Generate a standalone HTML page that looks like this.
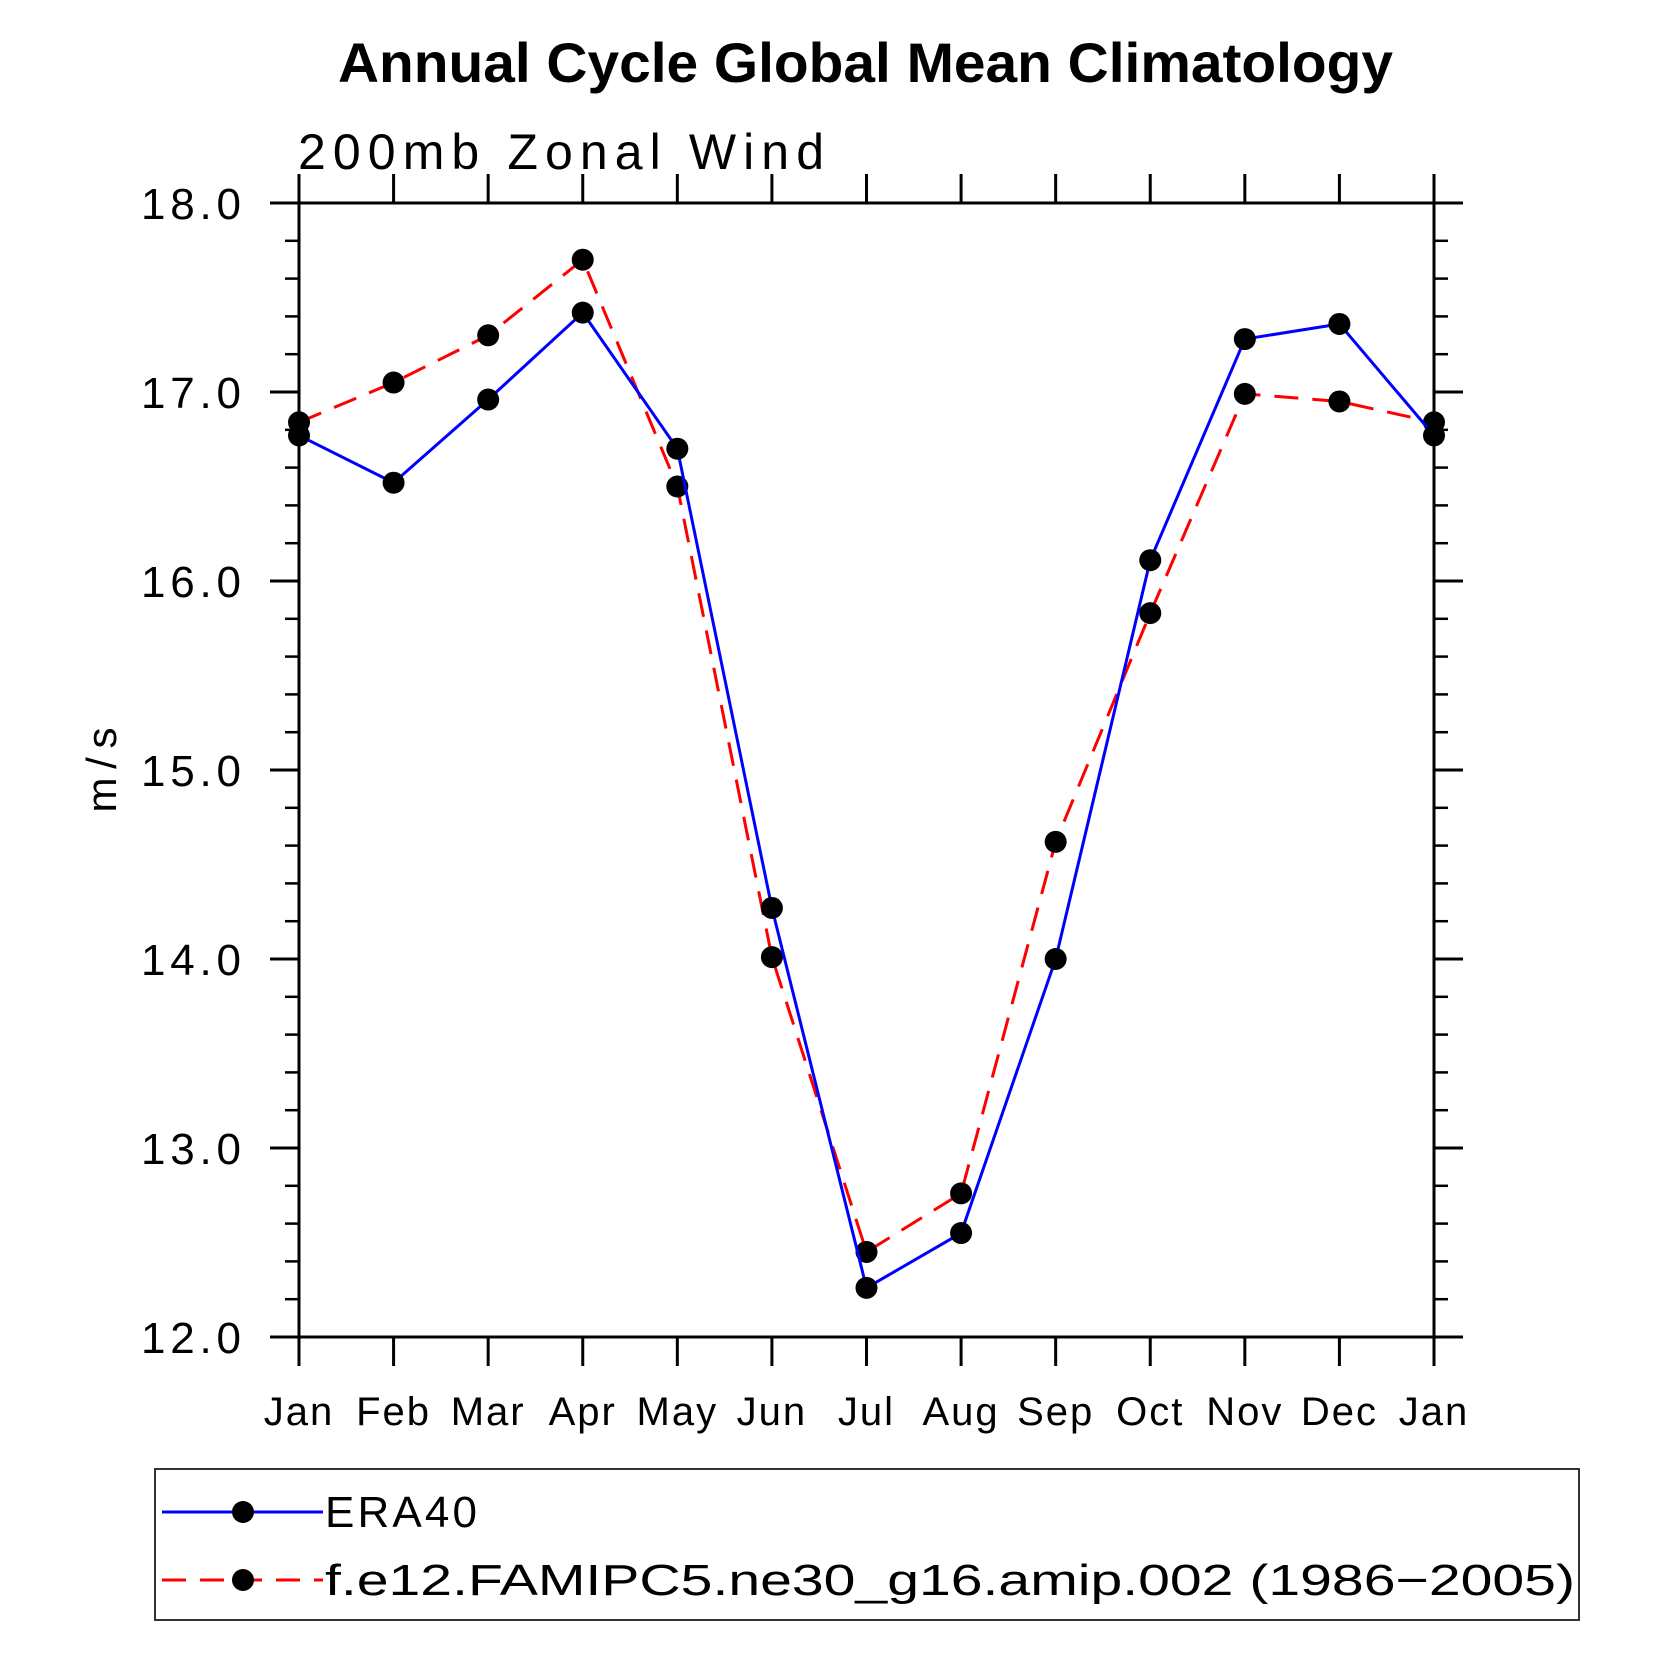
<!DOCTYPE html>
<html><head><meta charset="utf-8"><style>
html,body{margin:0;padding:0;background:#fff;}
svg{display:block;font-family:"Liberation Sans",sans-serif;}
</style></head><body>
<svg id="chart" width="1658" height="1658" viewBox="0 0 1658 1658" xmlns="http://www.w3.org/2000/svg">
<rect width="1658" height="1658" fill="#fff"/>
<text x="338" y="82" font-size="56" font-weight="bold" textLength="1055" lengthAdjust="spacingAndGlyphs">Annual Cycle Global Mean Climatology</text>
<text x="298" y="169" font-size="50" textLength="526" lengthAdjust="spacing">200mb Zonal Wind</text>
<text transform="translate(116,770) rotate(-90)" text-anchor="middle" font-size="42" textLength="85" lengthAdjust="spacing">m/s</text>
<g id="axes"></g>
<g id="series"></g>
<g id="legend">
<rect x="155" y="1469" width="1424" height="151" fill="none" stroke="#333" stroke-width="2"/>
<g>
<line x1="162" y1="1512" x2="323" y2="1512" stroke="#00f" stroke-width="3"/>
<circle cx="243" cy="1512" r="11"/>
<text x="325" y="1527" font-size="44" textLength="152" lengthAdjust="spacing">ERA40</text>
</g>
<g>
<line x1="162" y1="1580" x2="323" y2="1580" stroke="#f00" stroke-width="3" stroke-dasharray="24,14"/>
<circle cx="243" cy="1580" r="11"/>
<text x="325" y="1595" font-size="44" textLength="1250" lengthAdjust="spacingAndGlyphs">f.e12.FAMIPC5.ne30_g16.amip.002 (1986−2005)</text>
</g>
</g>
</svg>
<script>
const months = ["Jan","Feb","Mar","Apr","May","Jun","Jul","Aug","Sep","Oct","Nov","Dec","Jan"];
const era40 = [16.77,16.52,16.96,17.42,16.70,14.27,12.26,12.55,14.00,16.11,17.28,17.36,16.77];
const model = [16.84,17.05,17.30,17.70,16.50,14.01,12.45,12.76,14.62,15.83,16.99,16.95,16.84];
const yTicks = ["12.0","13.0","14.0","15.0","16.0","17.0","18.0"];
const yMin = 12, yMax = 18;

const NS = "http://www.w3.org/2000/svg";
const L = 299, R = 1434, T = 203, B = 1337;
const xs = i => L + (R - L) * i / (months.length - 1);
const ys = v => B - (B - T) * (v - yMin) / (yMax - yMin);
function mk(tag, attrs, parent) {
  const e = document.createElementNS(NS, tag);
  for (const k in attrs) e.setAttribute(k, attrs[k]);
  parent.appendChild(e);
  return e;
}
const axes = document.getElementById("axes");
const frame = mk("rect", {x:L, y:T, width:R-L, height:B-T, fill:"none", stroke:"#000", "stroke-width":3}, axes);


months.forEach((m, i) => {
  const x = xs(i);
  const t1 = mk("line", {x1:x, y1:T, x2:x, y2:T-29, stroke:"#000", "stroke-width":3}, axes);
  
  
  const t2 = mk("line", {x1:x, y1:B, x2:x, y2:B+29, stroke:"#000", "stroke-width":3}, axes);
  
  
  const lb = mk("text", {x:x, y:B+88, "text-anchor":"middle", "font-size":"40", "letter-spacing":"2"}, axes);
  lb.textContent = m;
  
  
});
for (let v = yMin; v <= yMax + 1e-9; v += 0.2) {
  const y = ys(v);
  const major = Math.abs(v - Math.round(v)) < 1e-6;
  const len = major ? 29 : 14;
  const a = mk("line", {x1:L-len, y1:y, x2:L, y2:y, stroke:"#000", "stroke-width":major?3:2.5}, axes);
  
  
  const b = mk("line", {x1:R, y1:y, x2:R+len, y2:y, stroke:"#000", "stroke-width":major?3:2.5}, axes);
  
  
}
yTicks.forEach(s => {
  const lb = mk("text", {x:L-158, y:ys(parseFloat(s))+16, "font-size":"44", textLength:"100", lengthAdjust:"spacing"}, axes);
  lb.textContent = s;
  
  
});
const series = document.getElementById("series");
function draw(vals, color, dash, name) {
  const g = mk("g", {}, series);
  
  
  const pts = vals.map((v, i) => xs(i) + "," + ys(v)).join(" ");
  const pl = mk("polyline", {points:pts, fill:"none", stroke:color, "stroke-width":3, "stroke-dasharray":dash}, g);
  
  
  vals.forEach((v, i) => {
    const c = mk("circle", {cx:xs(i), cy:ys(v), r:11, fill:"#000"}, g);
    
    
  });
}
draw(model, "#f00", "24,14", "model-series");
draw(era40, "#00f", "none", "era40-series");
</script>
</body></html>
